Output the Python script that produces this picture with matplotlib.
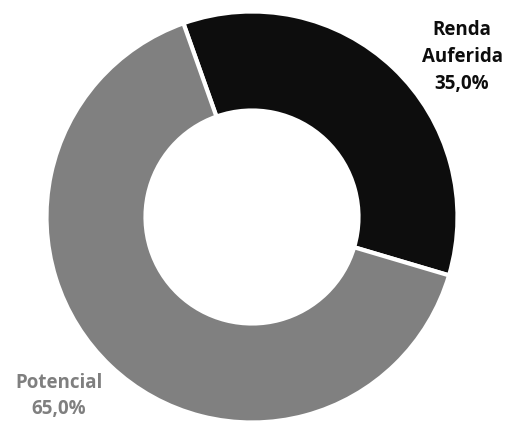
import matplotlib.pyplot as plt

# dados do gráfico
labels = ['Renda\nAuferida', 'Potencial']
valores = [35.0, 65.0]
cores = ['#0d0d0d', '#808080']
cores_texto = ['#0d0d0d', '#7f7f7f']

plt.rcParams['font.family'] = ['Open Sans', 'DejaVu Sans']

fig = plt.figure(figsize=(5.14, 4.22), dpi=100)
ax = fig.add_axes([0, 0, 1, 1])

ax.pie(valores, colors=cores, startangle=109.5, counterclock=False,
       center=(252, -217), radius=205.5,
       wedgeprops=dict(width=99, edgecolor='white', linewidth=3))

ax.set_xlim(0, 514)
ax.set_ylim(-422, 0)
ax.set_aspect('equal')
ax.axis('off')

# rótulos
pos = [(462, -57), (59, -396)]
for lab, v, c, (x, y) in zip(labels, valores, cores_texto, pos):
    txt = f"{lab}\n{v:.1f}%".replace('.', ',')
    ax.text(x, y, txt, ha='center', va='center', fontsize=13.5,
            fontweight='bold', color=c, linespacing=1.45)

fig.savefig('out.png', dpi=100)
